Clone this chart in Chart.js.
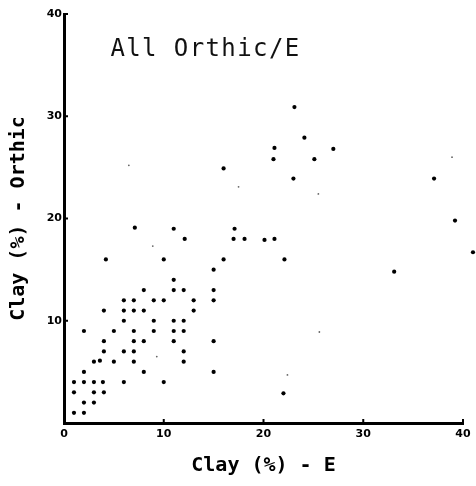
<!DOCTYPE html>
<html lang="en">
<head>
  <meta charset="UTF-8">
  <title>Clay (%) - Orthic vs E</title>
  <style>
    html, body {
      margin: 0;
      padding: 0;
      background: #fff;
    }
  </style>
  <script src="https://cdn.jsdelivr.net/npm/chart.js"></script>
</head>
<body>
  <canvas id="clayChart" width="476" height="486"></canvas>

  <script>
    // Clay content of the E horizon (x) against the Orthic horizon (y), in %
    const clayE = [
      1, 2, 2, 3, 1, 3, 4, 1, 2, 3, 3.9, 6, 10, 2, 8, 15,
      3, 3.6, 5, 7, 12, 4, 6, 7, 12, 4, 7, 8, 11, 15,
      2, 5, 7, 9, 11, 12, 6, 9, 11, 12, 4, 6, 7, 8, 13,
      6, 7, 9, 10, 13, 15, 8, 11, 12, 15, 11, 15,
      4.2, 10, 16, 22.1, 7.1, 11, 17.1, 12.1, 17, 18.1, 20.1, 21.1,
      16, 21, 21.1, 23, 23.1, 24.1, 25.1, 27, 37.1, 39.2, 33.1, 22
    ];
    const clayOrthic = [
      1, 1, 2, 2, 3, 3, 3, 4, 4, 4, 4, 4, 4, 5, 5, 5,
      6, 6.1, 6, 6, 6, 7, 7, 7, 7, 8, 8, 8, 8, 8,
      9, 9, 9, 9, 9, 9, 10, 10, 10, 10, 11, 11, 11, 11, 11,
      12, 12, 12, 12, 12, 12, 13, 13, 13, 13, 14, 15,
      16, 16, 16, 16, 19.1, 19, 19, 18, 18, 18, 17.9, 18,
      24.9, 25.8, 26.9, 23.9, 30.9, 27.9, 25.8, 26.8, 23.9, 19.8, 14.8, 2.9
    ];

    // sample past the 40 % end of the x axis
    const offAxisE = [41];
    const offAxisOrthic = [16.7];

    // lighter specks printed in the plot
    const faintE = [6.5, 17.5, 8.9, 9.3, 25.6, 22.4, 38.9, 25.5];
    const faintOrthic = [25.2, 23.1, 17.3, 6.5, 8.9, 4.7, 26.0, 22.4];

    const xTicks = [0, 10, 20, 30, 40];
    const yTicks = [10, 20, 30, 40];
    const titleText = 'All Orthic/E';

    const toPoints = (xs, ys) => xs.map((x, i) => ({ x, y: ys[i] }));

    // small inward tick marks, the caption inside the plot and the off-axis sample
    const frameMarks = {
      id: 'frameMarks',
      afterDraw(chart) {
        const { ctx, scales: { x, y } } = chart;
        ctx.save();
        ctx.strokeStyle = '#000';
        ctx.lineWidth = 2;
        ctx.beginPath();
        xTicks.slice(1).forEach(v => {
          const px = x.getPixelForValue(v);
          ctx.moveTo(px, y.bottom);
          ctx.lineTo(px, y.bottom - 4);
        });
        yTicks.forEach(v => {
          const py = y.getPixelForValue(v);
          ctx.moveTo(x.left, py);
          ctx.lineTo(x.left + 4, py);
        });
        ctx.stroke();

        ctx.fillStyle = '#000';
        offAxisE.forEach((v, i) => {
          ctx.beginPath();
          ctx.arc(x.getPixelForValue(v), y.getPixelForValue(offAxisOrthic[i]), 2.1, 0, Math.PI * 2);
          ctx.fill();
        });

        ctx.fillStyle = '#111';
        ctx.font = '24px "DejaVu Sans Mono"';
        ctx.letterSpacing = '1.4px';
        ctx.textAlign = 'left';
        ctx.textBaseline = 'alphabetic';
        ctx.fillText(titleText, x.getPixelForValue(4.65), y.getPixelForValue(35.9));
        ctx.restore();
      }
    };

    const tickFont = { family: 'DejaVu Sans', size: 11, weight: 'bold' };
    const titleFont = { family: 'DejaVu Sans Mono', size: 20, weight: 'bold' };

    new Chart(document.getElementById('clayChart'), {
      type: 'scatter',
      data: {
        datasets: [
          {
            data: toPoints(clayE, clayOrthic),
            backgroundColor: '#000',
            borderWidth: 0,
            pointRadius: 2.1
          },
          {
            data: toPoints(faintE, faintOrthic),
            backgroundColor: '#666',
            borderWidth: 0,
            pointRadius: 0.9
          }
        ]
      },
      options: {
        responsive: false,
        animation: false,
        layout: {
          autoPadding: false,
          padding: { top: 14, right: 13, left: 0, bottom: 0 }
        },
        plugins: {
          legend: { display: false },
          tooltip: { enabled: false }
        },
        scales: {
          x: {
            type: 'linear',
            min: 0,
            max: 40,
            afterBuildTicks: s => { s.ticks = xTicks.map(v => ({ value: v })); },
            afterFit: s => { s.height = 63; },
            grid: { display: false, drawTicks: false },
            border: { display: true, width: 3, color: '#000' },
            ticks: { color: '#000', font: tickFont, padding: 5 },
            title: {
              display: true,
              text: 'Clay (%) - E',
              color: '#000',
              font: titleFont,
              padding: { top: 0, bottom: 8 }
            }
          },
          y: {
            type: 'linear',
            min: 0,
            max: 40,
            afterBuildTicks: s => { s.ticks = yTicks.map(v => ({ value: v })); },
            afterFit: s => { s.width = 64; },
            grid: { display: false, drawTicks: false },
            border: { display: true, width: 3, color: '#000' },
            ticks: { color: '#000', font: tickFont, padding: 2 },
            title: {
              display: true,
              text: 'Clay (%) - Orthic',
              color: '#000',
              font: titleFont,
              padding: { top: 7, bottom: 0 }
            }
          }
        }
      },
      plugins: [frameMarks]
    });
  </script>
</body>
</html>
